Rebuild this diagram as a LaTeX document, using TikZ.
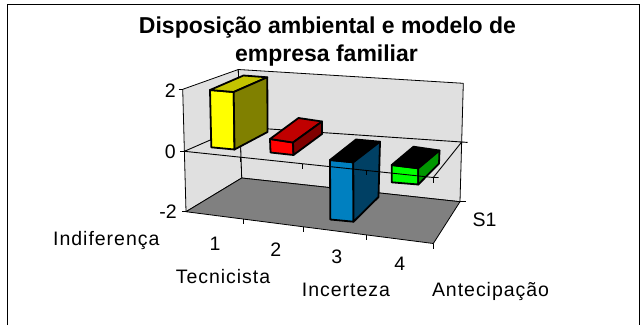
\documentclass[tikz,border=0pt]{standalone}
\usepackage{fontspec}
\setmainfont{Liberation Sans}
\newfontfamily\lsfont[LetterSpace=5]{Liberation Sans}
\definecolor{wall}{RGB}{224,224,224}
\definecolor{floorc}{RGB}{128,128,128}
\definecolor{yfront}{RGB}{255,255,0}
\definecolor{ytop}{RGB}{196,196,0}
\definecolor{yside}{RGB}{128,128,0}
\definecolor{rfront}{RGB}{255,0,0}
\definecolor{rtop}{RGB}{192,0,0}
\definecolor{rside}{RGB}{128,0,0}
\definecolor{bfront}{RGB}{0,128,192}
\definecolor{bside}{RGB}{0,64,100}
\definecolor{gfront}{RGB}{0,255,0}
\definecolor{gside}{RGB}{0,150,0}
\begin{document}
\begin{tikzpicture}[x=1pt,y=-1pt,
  wallface/.style={fill=wall,draw=black,line width=0.8pt,line join=round},
  floorface/.style={fill=floorc,draw=black,line width=0.8pt,line join=round},
  axisline/.style={draw=black,line width=0.9pt},
  barface/.style={draw=black,line width=1.8pt,line join=round},
  lbl/.style={font=\fontsize{19.5}{21}\selectfont,inner sep=0pt},
  wlbl/.style={font=\fontsize{19.5}{21}\selectfont\lsfont,inner sep=0pt,anchor=base west},
  ttl/.style={font=\fontsize{23}{26}\selectfont\bfseries,inner sep=0pt,anchor=base}]
\useasboundingbox (0,0) rectangle (644,325);
\fill[white] (0,0) rectangle (644,325);
% outer border
\draw[line width=1pt] (7.5,325) -- (7.5,4.5) -- (639.5,4.5) -- (639.5,325);
% title
\node[ttl] (t1) at (327.5,33.3) {Disposição ambiental e modelo de};
\node[ttl] (t2) at (326.5,61.7) {empresa familiar};
% walls and floor
\draw[wallface] (182.7,89.3) -- (238.3,69.5) -- (241.7,178) -- (186,211.7) -- cycle;
\draw[wallface] (238.3,69.5) -- (463.3,83.3) -- (460,201.7) -- (241.7,178) -- cycle;
\draw[floorface] (186,211.7) -- (241.7,178) -- (460,201.7) -- (433.3,243.5) -- cycle;
% zero plane (back, left, right edges)
\draw[axisline] (184.4,151.3) -- (240.1,127) -- (461.7,142) -- (433.3,177.5);
% value axis ticks
\draw[axisline] (178.7,89.3) -- (182.7,89.3);
\draw[axisline] (180.4,151.3) -- (184.4,151.3);
\draw[axisline] (182,211.7) -- (186,211.7);
% series axis ticks
\draw[axisline] (461.7,142) -- (467.5,142.4);
\draw[axisline] (460,201.7) -- (465.5,201.7);
% floor front ticks
\draw[axisline] (243.3,219.1) -- (243.3,224.1);
\draw[axisline] (303.3,226.8) -- (303.3,231.8);
\draw[axisline] (366.7,234.9) -- (366.7,239.9);
\draw[axisline] (433.3,243.5) -- (433.3,248.5);
% bars
% yellow
\draw[barface,fill=yfront] (210,90) -- (233.7,92) -- (234.5,149.5) -- (211.3,147.3) -- cycle;
\draw[barface,fill=ytop] (210,90) -- (233.7,92) -- (267.3,77.3) -- (243.5,75.5) -- cycle;
\draw[barface,fill=yside] (233.7,92) -- (267.3,77.3) -- (267.5,132) -- (234.5,149.5) -- cycle;
% red
\draw[barface,fill=rfront] (270,139) -- (293,142.5) -- (293.5,155) -- (270.5,152.5) -- cycle;
\draw[barface,fill=rtop] (270,139) -- (293,142.5) -- (322,121.5) -- (298.5,118) -- cycle;
\draw[barface,fill=rside] (293,142.5) -- (322,121.5) -- (322,134) -- (293.5,155) -- cycle;
% blue
\draw[barface,fill=bfront] (330,160) -- (353.3,162.3) -- (353.5,221.7) -- (330.3,219.5) -- cycle;
\draw[barface,fill=black] (330,160) -- (353.3,162.3) -- (380,141.7) -- (356,139.5) -- cycle;
\draw[barface,fill=bside] (353.3,162.3) -- (380,141.7) -- (378.5,197) -- (353.5,221.7) -- cycle;
% green
\draw[barface,fill=gfront] (391.7,165) -- (418.3,168.3) -- (418.3,184.5) -- (391.7,182.3) -- cycle;
\draw[barface,fill=black] (391.7,165) -- (418.3,168.3) -- (439.5,150.5) -- (413.5,146.7) -- cycle;
\draw[barface,fill=gside] (418.3,168.3) -- (439.5,150.5) -- (439,163.5) -- (418.3,184.5) -- cycle;
% zero plane front edge and ticks (drawn over bars)
\draw[axisline] (184.4,151.3) -- (433.3,177.5) -- (438.5,177.5);
\draw[axisline] (240.5,157.2) -- (240.5,162.2);
\draw[axisline] (302.5,163.7) -- (302.5,168.7);
\draw[axisline] (366,170.4) -- (366,175.4);
\draw[axisline] (433.3,177.5) -- (433.3,182.5);
% value labels
\node[lbl,anchor=east] (v2) at (176,90.7) {2};
\node[lbl,anchor=east] (v0) at (176,151.3) {0};
\node[lbl,anchor=east] (vm2) at (177,211.7) {-2};
% category labels
\node[lbl] (c1) at (215,243.3) {1};
\node[lbl] (c2) at (275.8,250) {2};
\node[lbl] (c3) at (336.8,256.5) {3};
\node[lbl] (c4) at (399.8,264) {4};
\node[lbl] (s1) at (484.5,220) {S1};
\node[wlbl] (w1) at (53,245) {Indiferença};
\node[wlbl] (w2) at (175.6,283) {Tecnicista};
\node[wlbl] (w3) at (301.7,296) {Incerteza};
\node[wlbl] (w4) at (431.8,296) {Antecipação};
\end{tikzpicture}
\end{document}
